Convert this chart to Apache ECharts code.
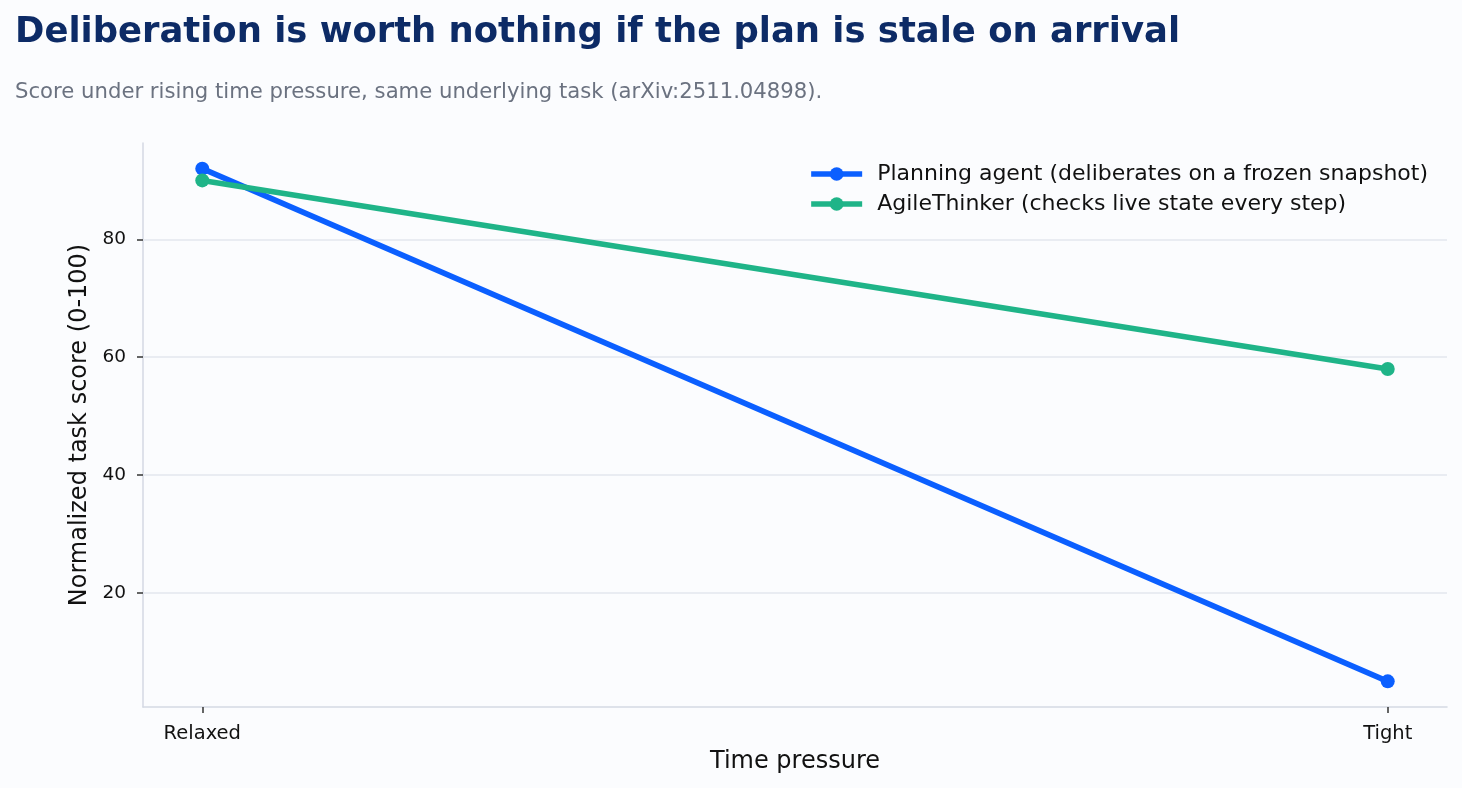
<!DOCTYPE html>
<html>
<head>
<meta charset="utf-8">
<script src="https://cdn.jsdelivr.net/npm/echarts@6/dist/echarts.min.js"></script>
<style>
html,body{margin:0;padding:0;background:#fbfcfe;}
#c{width:1462px;height:788px;}
</style>
</head>
<body>
<div id="c"></div>
<script>
const categories = ['Relaxed', 'Tight'];
const planningScores = [92, 5];
const agileScores = [90, 58];
const yTicks = [20, 40, 60, 80];
const seriesNames = ['Planning agent (deliberates on a frozen snapshot)', 'AgileThinker (checks live state every step)'];

const FONT = 'DejaVu Sans';
const chart = echarts.init(document.getElementById('c'), null, {renderer: 'canvas'});
const toPts = arr => arr.map((v, i) => [i, v]);

chart.setOption({
  backgroundColor: '#fbfcfe',
  animation: false,
  title: [
    {text: 'Deliberation is worth nothing if the plan is stale on arrival', left: 10, top: 10,
     textStyle: {fontFamily: FONT, fontWeight: 'bold', fontSize: 35.4, color: '#0d2b66'}},
    {text: 'Score under rising time pressure, same underlying task (arXiv:2511.04898).', left: 10, top: 77,
     textStyle: {fontFamily: FONT, fontWeight: 'normal', fontSize: 21.2, color: '#6b7280'}}
  ],
  legend: {
    orient: 'vertical', right: 29, top: 158, itemWidth: 51, itemHeight: 17, itemGap: 8,
    textStyle: {fontFamily: FONT, fontSize: 22, color: '#111111', padding: [0, 0, 0, 10]},
    lineStyle: {width: 5.5},
    data: seriesNames
  },
  grid: {left: 143, right: 15, top: 143, bottom: 81, containLabel: false},
  xAxis: {
    type: 'value', min: -0.05, max: 1.05,
    name: 'Time pressure', nameLocation: 'middle', nameGap: 43,
    nameTextStyle: {fontFamily: FONT, fontSize: 24, color: '#111111'},
    axisLine: {show: true, onZero: false, lineStyle: {color: '#d5d9e3', width: 1.5}},
    axisTick: {show: true, customValues: [0, 1], length: 6, lineStyle: {color: '#333333', width: 1.5}},
    axisLabel: {customValues: [0, 1], formatter: v => categories[Math.round(v)], margin: 17,
      fontFamily: FONT, fontSize: 19.5, color: '#111111'},
    splitLine: {show: false}
  },
  yAxis: {
    type: 'value', min: 0.65, max: 96.35,
    name: 'Normalized task score (0-100)', nameLocation: 'middle', nameGap: 48,
    nameTextStyle: {fontFamily: FONT, fontSize: 24, color: '#111111'},
    axisLine: {show: true, onZero: false, lineStyle: {color: '#d5d9e3', width: 1.5}},
    axisTick: {show: true, customValues: yTicks, length: 6, lineStyle: {color: '#333333', width: 1.5}},
    axisLabel: {customValues: yTicks, margin: 17, fontFamily: FONT, fontSize: 18.5, color: '#111111'},
    splitLine: {show: false}
  },
  series: [
    {
      name: seriesNames[0], type: 'line', data: toPts(planningScores),
      symbol: 'circle', symbolSize: 14,
      lineStyle: {width: 5.5, color: '#0b5fff'}, itemStyle: {color: '#0b5fff'},
      z: 3,
      markLine: {
        silent: true, symbol: 'none', label: {show: false},
        lineStyle: {color: '#e3e7ee', width: 1.5, type: 'solid'},
        data: yTicks.map(v => ({yAxis: v})),
        z: 1
      }
    },
    {
      name: seriesNames[1], type: 'line', data: toPts(agileScores),
      symbol: 'circle', symbolSize: 14,
      lineStyle: {width: 5.5, color: '#1fb488'}, itemStyle: {color: '#1fb488'},
      z: 4
    }
  ]
});
</script>
</body>
</html>
